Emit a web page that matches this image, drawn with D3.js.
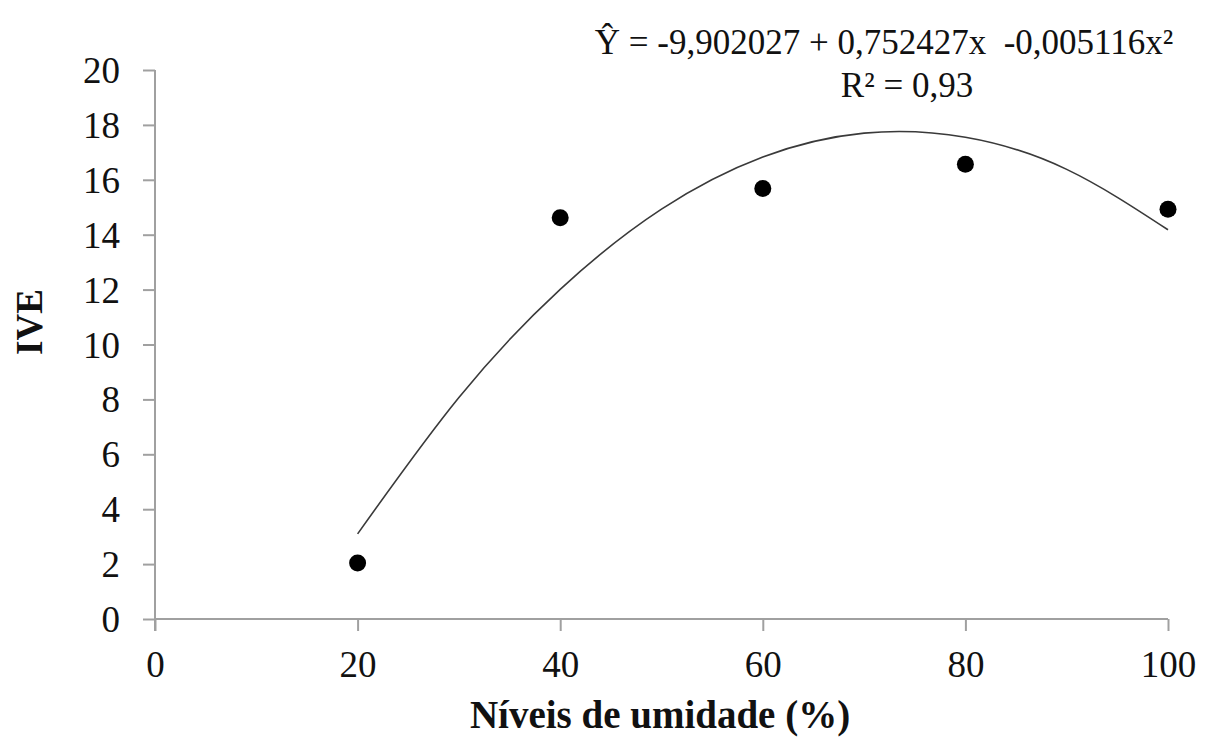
<!DOCTYPE html>
<html>
<head>
    <meta charset="utf-8">
    <title>IVE x Niveis de umidade</title>
    <script src="https://cdn.jsdelivr.net/npm/d3@7"></script>
    <style>
        body { margin: 0; background: #fff; }
        #chart text { font-family: "Liberation Serif", "Times New Roman", serif; fill: #111; }
        #chart .tick text { font-size: 37px; }
    </style>
</head>
<body>
    <svg id="chart" width="1223" height="738"></svg>
    <script>
        // observed points
        var niveis = [20, 40, 60, 80, 100];
        var ive = [2.04, 14.62, 15.68, 16.57, 14.93];

        // fitted curve
        var curveX = [20, 30, 40, 50, 60, 70, 80, 90, 100];
        var curveY = [3.10, 8.07, 12.01, 14.93, 16.83, 17.70, 17.55, 16.38, 14.18];

        var xTicks = [0, 20, 40, 60, 80, 100];
        var yTicks = [0, 2, 4, 6, 8, 10, 12, 14, 16, 18, 20];

        var margin = {top: 70, right: 55, bottom: 119, left: 155};
        var w = 1223 - margin.left - margin.right;
        var h = 738 - margin.top - margin.bottom;

        var svg = d3.select("#chart");
        var g = svg.append("g")
            .attr("transform", "translate(" + margin.left + "," + margin.top + ")");

        var x = d3.scaleLinear().domain([0, 100]).range([0, w]);
        var y = d3.scaleLinear().domain([0, 20]).range([h, 0]);

        //axes
        var xAxis = g.append("g")
            .attr("transform", "translate(0," + h + ")")
            .call(d3.axisBottom(x).tickValues(xTicks).tickSize(12).tickFormat(d3.format("d")));
        var yAxis = g.append("g")
            .call(d3.axisLeft(y).tickValues(yTicks).tickSize(12).tickPadding(23).tickFormat(d3.format("d")));

        [xAxis, yAxis].forEach(function (a) {
            a.select(".domain").attr("stroke", "#a0a0a0").attr("stroke-width", 2);
            a.selectAll(".tick line").attr("stroke", "#a0a0a0").attr("stroke-width", 2);
        });
        xAxis.select(".domain").attr("d", "M0,0H" + w);
        yAxis.select(".domain").attr("d", "M0,0V" + (h + 12));
        xAxis.selectAll(".tick text").attr("y", 58).attr("dy", 0);
        yAxis.selectAll(".tick text").attr("dy", "0.34em");

        //curve
        var line = d3.line()
            .x(function (d, i) { return x(curveX[i]); })
            .y(function (d) { return y(d); })
            .curve(d3.curveNatural);
        g.append("path")
            .datum(curveY)
            .attr("d", line)
            .attr("fill", "none")
            .attr("stroke", "#3a3a3a")
            .attr("stroke-width", 1.6);

        //points
        g.selectAll("circle")
            .data(ive)
            .enter()
            .append("circle")
            .attr("cx", function (d, i) { return x(niveis[i]); })
            .attr("cy", function (d) { return y(d); })
            .attr("r", 8.5)
            .attr("fill", "#000");

        //equation
        svg.append("text")
            .attr("x", 884)
            .attr("y", 54)
            .attr("text-anchor", "middle")
            .style("font-size", "35px")
            .style("white-space", "pre")
            .text("Ŷ = -9,902027 + 0,752427x  -0,005116x²");
        svg.append("text")
            .attr("x", 907)
            .attr("y", 97)
            .attr("text-anchor", "middle")
            .style("font-size", "35px")
            .text("R² = 0,93");

        //axis titles
        svg.append("text")
            .attr("x", 660)
            .attr("y", 728)
            .attr("text-anchor", "middle")
            .style("font-size", "39px")
            .style("font-weight", "bold")
            .text("Níveis de umidade (%)");
        svg.append("text")
            .attr("transform", "translate(42,322) rotate(-90)")
            .attr("text-anchor", "middle")
            .style("font-size", "37px")
            .style("font-weight", "bold")
            .text("IVE");
    </script>
</body>
</html>
